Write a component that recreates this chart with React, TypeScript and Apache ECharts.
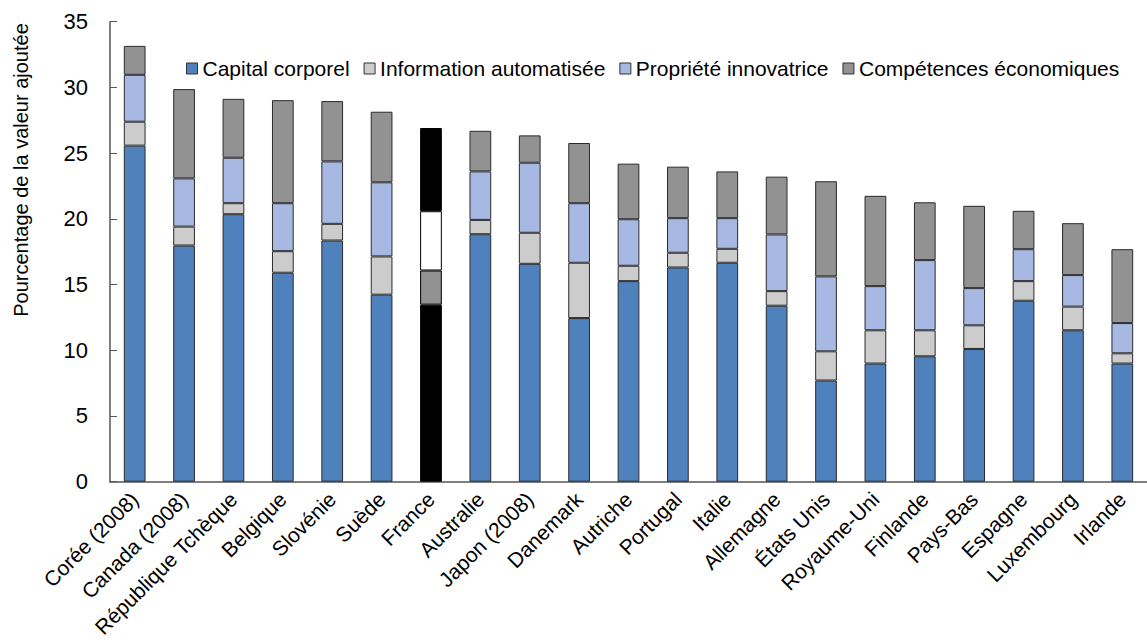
import React, { useEffect, useRef } from "react";
import * as echarts from "echarts";

const countries = [
  "Corée (2008)", "Canada (2008)", "République Tchèque", "Belgique", "Slovénie", "Suède",
  "France", "Australie", "Japon (2008)", "Danemark", "Autriche", "Portugal", "Italie",
  "Allemagne", "États Unis", "Royaume-Uni", "Finlande", "Pays-Bas", "Espagne",
  "Luxembourg", "Irlande",
];
const capitalCorporel = [25.57, 17.97, 20.35, 15.9, 18.35, 14.23, 13.47, 18.83, 16.58, 12.45, 15.26, 16.3, 16.66, 13.39, 7.7, 8.99, 9.54, 10.1, 13.77, 11.52, 8.99];
const informationAutomatisee = [1.82, 1.44, 0.84, 1.64, 1.27, 2.91, 2.6, 1.09, 2.36, 4.21, 1.17, 1.12, 1.06, 1.11, 2.22, 2.53, 1.98, 1.8, 1.49, 1.8, 0.78];
const proprieteInnovatrice = [3.57, 3.67, 3.46, 3.65, 4.75, 5.64, 4.51, 3.69, 5.33, 4.53, 3.54, 2.63, 2.33, 4.31, 5.7, 3.36, 5.34, 2.83, 2.43, 2.4, 2.3];
const competencesEconomiques = [2.2, 6.79, 4.48, 7.84, 4.59, 5.37, 6.33, 3.09, 2.08, 4.58, 4.23, 3.92, 3.56, 4.4, 7.24, 6.87, 4.4, 6.26, 2.92, 3.95, 5.62];
const yTicks = [0, 5, 10, 15, 20, 25, 30, 35];

const highlight = "France";
const FONT = "'Liberation Sans', Arial, sans-serif";

const seriesDefs = [
  { name: "Capital corporel", data: capitalCorporel, color: "#4F81BD", hl: "#000000" },
  { name: "Information automatisée", data: informationAutomatisee, color: "#CCCCCC", hl: "#929292" },
  { name: "Propriété innovatrice", data: proprieteInnovatrice, color: "#A7B9E3", hl: "#FFFFFF" },
  { name: "Compétences économiques", data: competencesEconomiques, color: "#929292", hl: "#000000" },
];

export default function App() {
  const ref = useRef<HTMLDivElement>(null);
  useEffect(() => {
    if (!ref.current) return;
    const chart = echarts.init(ref.current, null, { renderer: "svg" });
    chart.setOption({
      animation: false,
      backgroundColor: "#ffffff",
      textStyle: { fontFamily: FONT },
      grid: { left: 110, top: 21.7, width: 1046, height: 460, containLabel: false },
      legend: {
        left: 181,
        top: 53,
        itemWidth: 11,
        itemHeight: 11,
        itemGap: 14,
        icon: "rect",
        itemStyle: { borderColor: "#333", borderWidth: 1 },
        textStyle: { fontSize: 21, color: "#000", fontFamily: FONT },
        data: seriesDefs.map((s) => s.name),
      },
      graphic: [
        {
          type: "text",
          x: 21,
          y: 170,
          rotation: Math.PI / 2,
          style: {
            text: "Pourcentage de la valeur ajoutée",
            fontSize: 20,
            fontFamily: FONT,
            fill: "#000",
            align: "center",
            verticalAlign: "middle",
          },
        },
      ],
      xAxis: {
        type: "category",
        data: countries,
        axisLine: { lineStyle: { color: "#555", width: 1.5 } },
        axisTick: { inside: true, length: 5, lineStyle: { color: "#555" } },
        axisLabel: { rotate: 45, fontSize: 21, color: "#000", fontFamily: FONT, margin: 14, interval: 0 },
      },
      yAxis: {
        type: "value",
        min: yTicks[0],
        max: yTicks[yTicks.length - 1],
        interval: 5,
        splitLine: { show: false },
        axisLine: { show: true, lineStyle: { color: "#555", width: 1.5 } },
        axisTick: { show: true, inside: true, length: 7, lineStyle: { color: "#555" } },
        axisLabel: { fontSize: 22, color: "#000", fontFamily: FONT, margin: 22 },
      },
      series: seriesDefs.map((s) => ({
        name: s.name,
        type: "bar",
        stack: "total",
        barWidth: "44%",
        itemStyle: { color: s.color, borderColor: "#2a2a2a", borderWidth: 1 },
        data: s.data.map((v, i) =>
          countries[i] === highlight
            ? { value: v, itemStyle: { color: s.hl, borderColor: "#000" } }
            : v
        ),
      })),
    });
    return () => chart.dispose();
  }, []);
  return (
    <div
      ref={ref}
      style={{ position: "fixed", left: 0, top: 0, width: 1147, height: 643 }}
    />
  );
}
